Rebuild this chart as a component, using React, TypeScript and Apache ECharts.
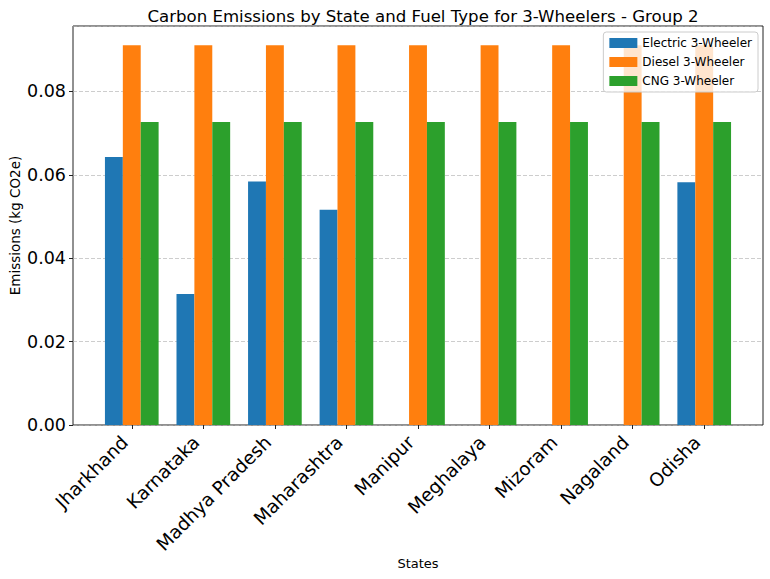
import React, { useEffect, useRef } from "react";
import * as echarts from "echarts";

const states = [
  "Jharkhand",
  "Karnataka",
  "Madhya Pradesh",
  "Maharashtra",
  "Manipur",
  "Meghalaya",
  "Mizoram",
  "Nagaland",
  "Odisha",
];
const electric = [0.0643, 0.0314, 0.0584, 0.0516, 0, 0, 0, 0, 0.0582];
const diesel = [0.0911, 0.0911, 0.0911, 0.0911, 0.0911, 0.0911, 0.0911, 0.0911, 0.0911];
const cng = [0.0727, 0.0727, 0.0727, 0.0727, 0.0727, 0.0727, 0.0727, 0.0727, 0.0727];
const seriesNames = ["Electric 3-Wheeler", "Diesel 3-Wheeler", "CNG 3-Wheeler"];
const colors = ["#1f77b4", "#ff7f0e", "#2ca02c"];
const yMax = 0.0957;
const yInterval = 0.02;

const FONT = "DejaVu Sans";

export default function App() {
  const ref = useRef<HTMLDivElement>(null);
  useEffect(() => {
    if (!ref.current) return;
    const chart = echarts.init(ref.current, null, { renderer: "svg" });
    const values = [electric, diesel, cng];
    chart.setOption({
      animation: false,
      backgroundColor: "#fff",
      textStyle: { fontFamily: FONT },
      title: {
        text: "Carbon Emissions by State and Fuel Type for 3-Wheelers - Group 2",
        left: 418,
        textAlign: "center",
        top: 3,
        textStyle: { fontFamily: FONT, fontSize: 16.6, fontWeight: "normal", color: "#000" },
      },
      legend: {
        orient: "vertical",
        right: 12,
        top: 32,
        padding: [5, 6, 5, 6],
        itemGap: 7,
        itemWidth: 28,
        itemHeight: 10,
        icon: "rect",
        borderColor: "#cccccc",
        borderWidth: 1,
        borderRadius: 3,
        backgroundColor: "rgba(255,255,255,0.8)",
        textStyle: { fontFamily: FONT, fontSize: 12, color: "#000" },
        data: seriesNames,
      },
      grid: [
        {
          left: 72,
          right: 7,
          top: 26,
          bottom: 154,
          show: true,
          borderColor: "#222",
          borderWidth: 1,
          backgroundColor: "transparent",
          containLabel: false,
        },
        {
          left: 96,
          right: 30,
          top: 26,
          bottom: 154,
          containLabel: false,
        },
      ],
      xAxis: [
        { gridIndex: 0, type: "value", min: 0, max: 1, show: false },
        {
          gridIndex: 1,
          type: "category",
          data: states,
          axisLine: { show: false },
          axisTick: { show: true, alignWithLabel: true, length: 4, lineStyle: { color: "#222" } },
          axisLabel: {
            rotate: 45,
            fontSize: 18.5,
            color: "#000",
            fontFamily: FONT,
            margin: 7,
            padding: [0, 10, 0, 0],
            interval: 0,
          },
          name: "States",
          nameLocation: "middle",
          nameGap: 132,
          nameMoveOverlap: false,
          nameTextStyle: { fontFamily: FONT, fontSize: 13, color: "#000" },
        },
      ],
      yAxis: [
        {
          gridIndex: 0,
          type: "value",
          min: 0,
          max: yMax,
          interval: yInterval,
          axisLine: { show: false },
          axisTick: { show: true, length: 4, lineStyle: { color: "#222" } },
          axisLabel: {
            fontSize: 17.5,
            color: "#000",
            fontFamily: FONT,
            margin: 7,
            showMaxLabel: false,
            formatter: (v: number) => v.toFixed(2),
          },
          splitLine: {
            show: true,
            lineStyle: { color: "#b0b0b0", type: [4, 2], width: 0.8, opacity: 0.8 },
          },
          name: "Emissions (kg CO2e)",
          nameLocation: "middle",
          nameRotate: 90,
          nameGap: 51,
          nameMoveOverlap: false,
          nameTextStyle: { fontFamily: FONT, fontSize: 13.5, color: "#000" },
        },
        { gridIndex: 1, type: "value", min: 0, max: yMax, show: false },
      ],
      series: seriesNames.map((name, i) => ({
        name,
        type: "bar",
        xAxisIndex: 1,
        yAxisIndex: 1,
        data: values[i],
        barGap: "0%",
        barCategoryGap: "25%",
        itemStyle: { color: colors[i] },
      })),
    });
    return () => chart.dispose();
  }, []);
  return (
    <div
      ref={ref}
      style={{ position: "fixed", left: 0, top: 0, width: 770, height: 579 }}
    />
  );
}
